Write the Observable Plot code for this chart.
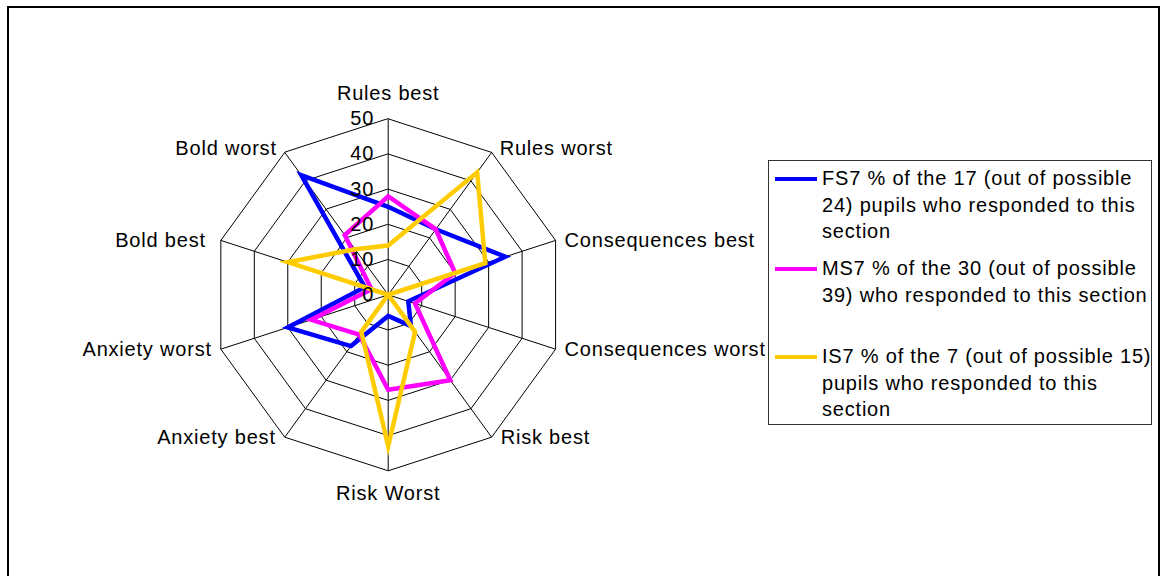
<!DOCTYPE html>
<html>
<head>
<meta charset="utf-8">
<script src="https://cdn.jsdelivr.net/npm/d3@7"></script>
<script src="https://cdn.jsdelivr.net/npm/@observablehq/plot@0.6"></script>
<style>
  html, body { margin: 0; padding: 0; background: #fff; }
  #wrap { position: relative; width: 1165px; height: 576px; overflow: hidden; font-family: "Liberation Sans", Arial, sans-serif; }
  #frame { position: absolute; left: 7px; top: 6px; width: 1153px; height: 620px; border: 2px solid #000; box-sizing: border-box; pointer-events: none; }
  #chart { position: absolute; left: 0; top: 0; }
  #chart text { letter-spacing: 0.8px; }
  #legend { position: absolute; left: 768px; top: 160px; width: 384px; height: 265px; border: 1px solid #333; box-sizing: border-box; background: #fff; }
  .entry { position: absolute; left: 0; }
  .swatch { position: absolute; left: 6px; width: 42px; height: 4px; }
  .label { position: absolute; left: 53px; font-size: 20px; letter-spacing: 0.8px; line-height: 26.5px; white-space: nowrap; color: #000; }
</style>
</head>
<body>
<div id="wrap">
  <div id="chart"></div>
  <div id="legend"></div>
  <div id="frame"></div>
</div>
<script>
// ---- data ----
const axes = ["Rules best", "Rules worst", "Consequences best", "Consequences worst", "Risk best",
              "Risk Worst", "Anxiety best", "Anxiety worst", "Bold best", "Bold worst"];
const fs7 = [25, 23, 35, 6, 11, 6, 18, 30, 7, 42];
const ms7 = [28, 23, 20, 8, 30, 27, 14, 23, 5, 21];
const is7 = [14, 43, 29, 0, 13, 43, 13, 0, 30, 16];
const seriesNames = ["FS7", "MS7", "IS7"];
const seriesColors = ["#0000FF", "#FF00FF", "#FFCC00"];
const legendLabels = [
  ["FS7 % of the 17 (out of possible", "24) pupils who responded to this", "section"],
  ["MS7 % of the 30 (out of possible", "39) who responded to this section"],
  ["IS7 % of the 7 (out of possible 15)", "pupils who responded to this", "section"]
];
const ticks = [0, 10, 20, 30, 40, 50];

// ---- geometry (layout) ----
const W = 1165, H = 576;
const cx = 387.7, cy = 294.3, R = 176, maxV = 50;
const U = R / maxV;
const n = axes.length;
const ang = i => i * 2 * Math.PI / n;
const px = (i, v) => v * Math.sin(ang(i));
const py = (i, v) => v * Math.cos(ang(i));

const rings = ticks.filter(t => t > 0).flatMap(t => axes.map((a, i) => ({ring: t, x: px(i, t), y: py(i, t)})));
const spokes = axes.map((a, i) => ({x2: px(i, maxV), y2: py(i, maxV)}));
const allSeries = [fs7, ms7, is7];
const pts = allSeries.flatMap((vals, s) => vals.map((v, i) => ({series: seriesNames[s], axis: axes[i], x: px(i, v), y: py(i, v)})));
const labels = axes.map((a, i) => ({name: a, i, x: px(i, maxV), y: py(i, maxV)}));
const tickData = ticks.map(t => ({t}));

const font = "Liberation Sans, Arial, sans-serif";
const fs = 20;
const txt = (data, opts) => Plot.text(data, {x: "x", y: "y", text: "name", fontSize: fs, fontFamily: font, fill: "#000", ...opts});

const chart = Plot.plot({
  width: W, height: H, margin: 0,
  x: {domain: [-cx / U, (W - cx) / U], range: [0, W], axis: null},
  y: {domain: [-(H - cy) / U, cy / U], range: [H, 0], axis: null},
  color: {domain: seriesNames, range: seriesColors},
  marks: [
    Plot.line(rings, {x: "x", y: "y", z: "ring", curve: "linear-closed", stroke: "#000", strokeWidth: 1}),
    Plot.link(spokes, {x1: 0, y1: 0, x2: "x2", y2: "y2", stroke: "#000", strokeWidth: 1}),
    ...seriesNames.map(s => Plot.line(pts.filter(d => d.series === s), {
      x: "x", y: "y", curve: "linear-closed", stroke: "series", strokeWidth: 4.5, strokeLinejoin: "miter", strokeMiterlimit: 10
    })),
    Plot.text(tickData, {x: 0, y: "t", text: d => String(d.t), textAnchor: "end", dx: -14, fontSize: fs, fontFamily: font, fill: "#000"}),
    txt(labels.filter(d => d.i === 0), {dy: -25}),
    txt(labels.filter(d => d.i === n / 2), {dy: 23}),
    txt(labels.filter(d => d.i === 1), {textAnchor: "start", dx: 8, dy: -4}),
    txt(labels.filter(d => d.i > 1 && d.i < n / 2), {textAnchor: "start", dx: 9}),
    txt(labels.filter(d => d.i === 9), {textAnchor: "end", dx: -8, dy: -4}),
    txt(labels.filter(d => d.i === 8), {textAnchor: "end", dx: -15}),
    txt(labels.filter(d => d.i > n / 2 && d.i < 8), {textAnchor: "end", dx: -9})
  ]
});
document.getElementById("chart").appendChild(chart);

// ---- legend ----
const legend = document.getElementById("legend");
const entryTops = [4, 94, 182];
seriesNames.forEach((s, k) => {
  const e = document.createElement("div");
  e.className = "entry";
  e.style.top = entryTops[k] + "px";
  const sw = document.createElement("div");
  sw.className = "swatch";
  sw.style.background = seriesColors[k];
  sw.style.top = "11.5px";
  e.appendChild(sw);
  const lab = document.createElement("div");
  lab.className = "label";
  lab.style.top = "0px";
  lab.innerHTML = legendLabels[k].map(t => t.replace(/&/g, "&amp;").replace(/</g, "&lt;")).join("<br>");
  e.appendChild(lab);
  legend.appendChild(e);
});
</script>
</body>
</html>
